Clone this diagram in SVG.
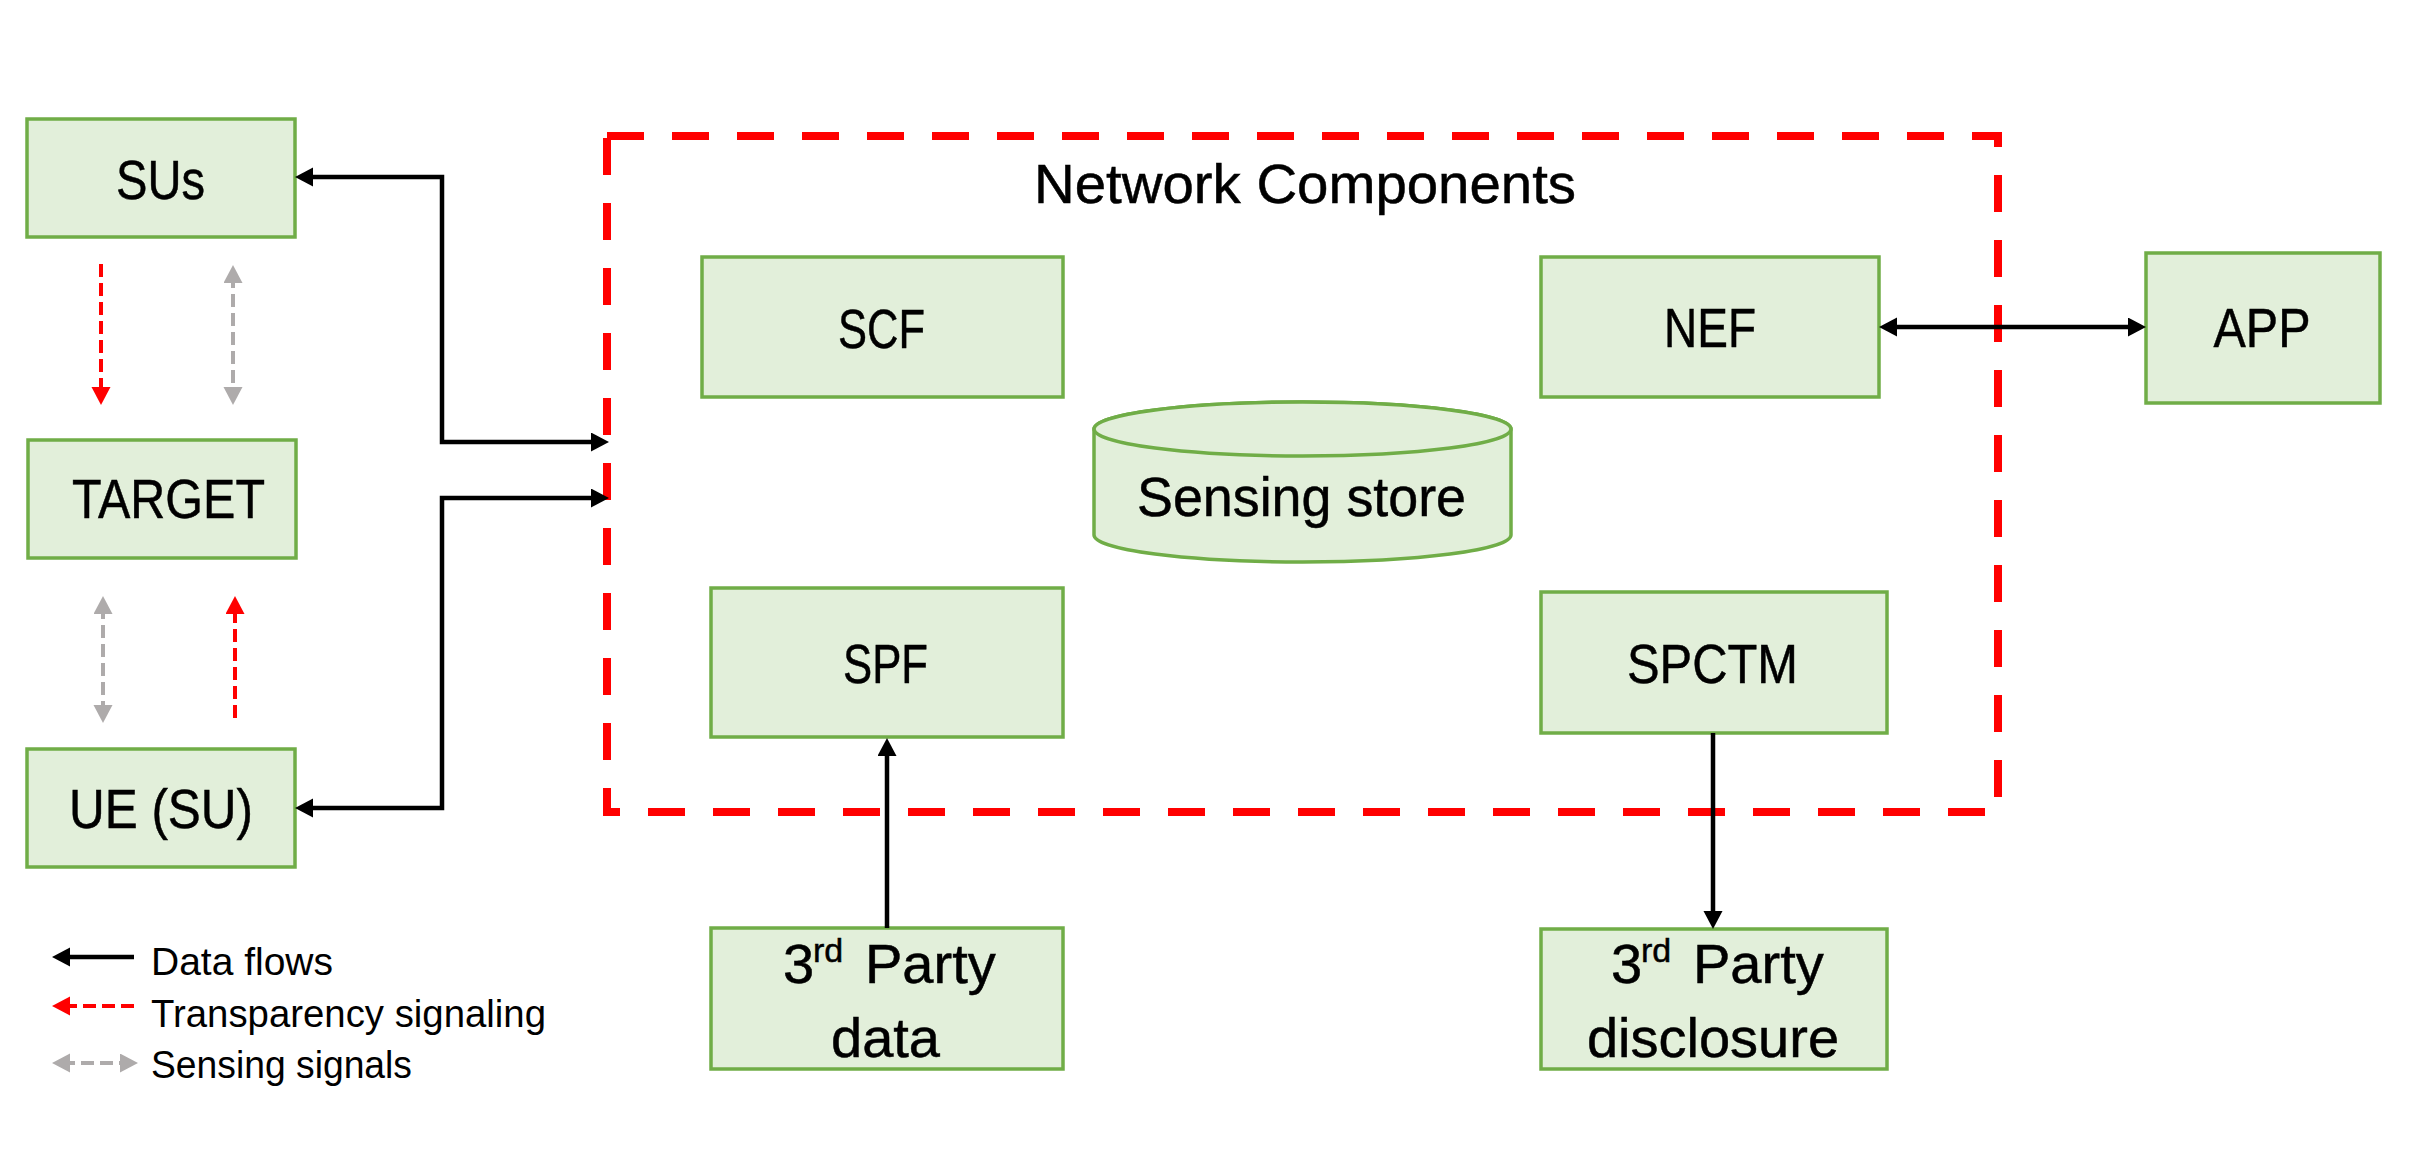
<svg xmlns="http://www.w3.org/2000/svg" width="2416" height="1164" viewBox="0 0 2416 1164">
<style>
.bg{fill:#FFFFFF}
.box{fill:#E2EFDA;stroke:#70AD47;stroke-width:3.5}
.lbl{font-family:"Liberation Sans",Arial,sans-serif;font-size:56px;fill:#000000;stroke:#000000;stroke-width:0.5;text-anchor:middle}
.sl{text-anchor:start}
.leg{font-family:"Liberation Sans",Arial,sans-serif;font-size:38px;fill:#000000}
.flow{fill:none;stroke:#000000;stroke-width:4.5}
.trans{fill:none;stroke:#FF0000;stroke-width:4;stroke-dasharray:13 6}
.sense{fill:none;stroke:#AEABAB;stroke-width:4;stroke-dasharray:13 6}
.region{fill:none;stroke:#FF0000;stroke-width:8;stroke-dasharray:37 28}
</style>
<defs>
<marker id="ahB" markerUnits="userSpaceOnUse" markerWidth="20" markerHeight="20" refX="8" refY="9.5" orient="auto-start-reverse"><path d="M0,0 L18,9.5 L0,19 Z" fill="#000000"/></marker>
<marker id="ahR" markerUnits="userSpaceOnUse" markerWidth="20" markerHeight="20" refX="8" refY="9.5" orient="auto-start-reverse"><path d="M0,0 L18,9.5 L0,19 Z" fill="#FF0000"/></marker>
<marker id="ahG" markerUnits="userSpaceOnUse" markerWidth="20" markerHeight="20" refX="8" refY="9.5" orient="auto-start-reverse"><path d="M0,0 L18,9.5 L0,19 Z" fill="#AEABAB"/></marker>
</defs>
<rect class="bg" x="0" y="0" width="2416" height="1164"/>

<g id="network-components">
<path class="region" d="M607,136 H1998 V812 H607 Z"/>
<text class="lbl" x="1305" y="203" textLength="542" lengthAdjust="spacingAndGlyphs">Network Components</text>
</g>

<g id="SUs"><rect class="box" x="27" y="119" width="268" height="118"/><text class="lbl" x="160.5" y="199" textLength="89" lengthAdjust="spacingAndGlyphs">SUs</text></g>
<g id="TARGET"><rect class="box" x="28" y="440" width="268" height="118"/><text class="lbl" x="168.5" y="518" textLength="193" lengthAdjust="spacingAndGlyphs">TARGET</text></g>
<g id="UE"><rect class="box" x="27" y="749" width="268" height="118"/><text class="lbl" x="161" y="828" textLength="184" lengthAdjust="spacingAndGlyphs">UE (SU)</text></g>

<g id="SCF"><rect class="box" x="702" y="257" width="361" height="140"/><text class="lbl" x="881.5" y="348" textLength="87" lengthAdjust="spacingAndGlyphs">SCF</text></g>
<g id="NEF"><rect class="box" x="1541" y="257" width="338" height="140"/><text class="lbl" x="1710" y="347" textLength="92" lengthAdjust="spacingAndGlyphs">NEF</text></g>
<g id="APP"><rect class="box" x="2146" y="253" width="234" height="150"/><text class="lbl" x="2262" y="347" textLength="97" lengthAdjust="spacingAndGlyphs">APP</text></g>

<g id="sensing-store">
<path class="box" d="M1094,429 A208.5,27 0 0,1 1511,429 L1511,535 A208.5,27 0 0,1 1094,535 Z"/>
<ellipse class="box" cx="1302.5" cy="429" rx="208.5" ry="27"/>
<text class="lbl" x="1301.5" y="516" textLength="329" lengthAdjust="spacingAndGlyphs">Sensing store</text>
</g>

<g id="SPF"><rect class="box" x="711" y="588" width="352" height="149"/><text class="lbl" x="885.5" y="683" textLength="85" lengthAdjust="spacingAndGlyphs">SPF</text></g>
<g id="SPCTM"><rect class="box" x="1541" y="592" width="346" height="141"/><text class="lbl" x="1712.5" y="683" textLength="171" lengthAdjust="spacingAndGlyphs">SPCTM</text></g>

<g id="third-party-data"><rect class="box" x="711" y="928" width="352" height="141"/>
<text class="lbl sl" y="983"><tspan x="783">3</tspan><tspan x="813" y="962" font-size="34px">rd</tspan><tspan x="865" y="983">Party</tspan></text>
<text class="lbl" x="885.5" y="1057">data</text></g>
<g id="third-party-disclosure"><rect class="box" x="1541" y="929" width="346" height="140"/>
<text class="lbl sl" y="983"><tspan x="1611">3</tspan><tspan x="1641" y="962" font-size="34px">rd</tspan><tspan x="1693" y="983">Party</tspan></text>
<text class="lbl" x="1713" y="1057">disclosure</text></g>

<g id="connectors">
<path class="flow" d="M305,177 H442 V442 H599" marker-start="url(#ahB)" marker-end="url(#ahB)"/>
<path class="flow" d="M599,498 H442 V808 H305" marker-start="url(#ahB)" marker-end="url(#ahB)"/>
<path class="flow" d="M1889,327 H2136" marker-start="url(#ahB)" marker-end="url(#ahB)"/>
<path class="flow" d="M887,928 V748" marker-end="url(#ahB)"/>
<path class="flow" d="M1713,733 V919" marker-end="url(#ahB)"/>
<path class="trans" d="M101,264 V395" marker-end="url(#ahR)"/>
<path class="sense" d="M233,275 V395" marker-start="url(#ahG)" marker-end="url(#ahG)"/>
<path class="sense" d="M103,606 V713" marker-start="url(#ahG)" marker-end="url(#ahG)"/>
<path class="trans" d="M235,718 V606" marker-end="url(#ahR)"/>
</g>

<g id="legend">
<path class="flow" d="M134,957 H62" marker-end="url(#ahB)"/>
<path class="trans" d="M134,1006 H62" marker-end="url(#ahR)"/>
<path class="sense" d="M62,1063 H128" marker-start="url(#ahG)" marker-end="url(#ahG)"/>
<text class="leg" x="151" y="975" textLength="182" lengthAdjust="spacingAndGlyphs">Data flows</text>
<text class="leg" x="151" y="1027" textLength="395" lengthAdjust="spacingAndGlyphs">Transparency signaling</text>
<text class="leg" x="151" y="1078" textLength="261" lengthAdjust="spacingAndGlyphs">Sensing signals</text>
</g>
</svg>
